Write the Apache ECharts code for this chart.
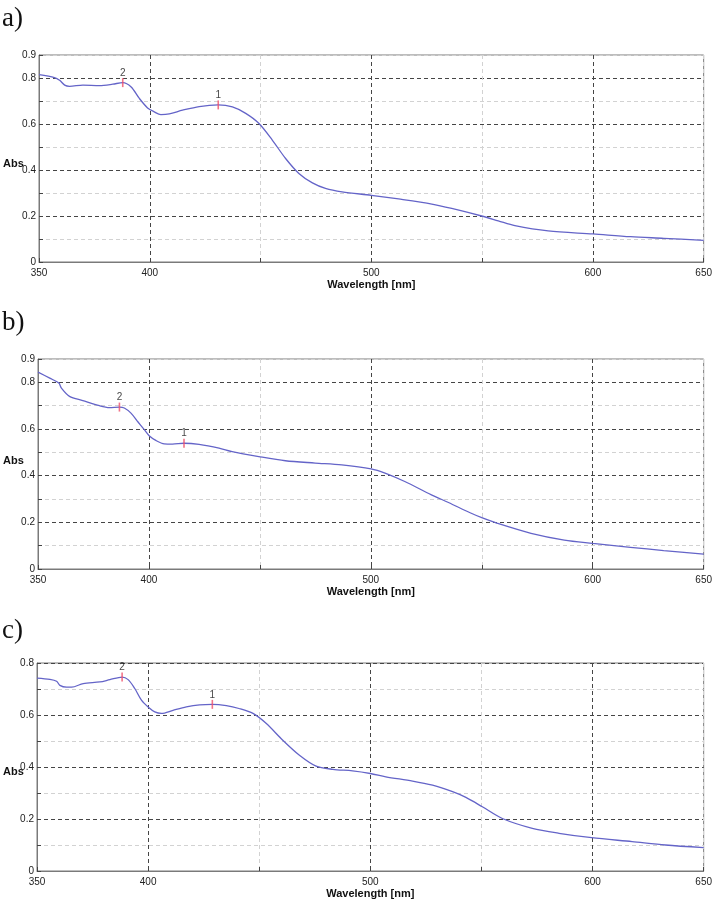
<!DOCTYPE html>
<html>
<head>
<meta charset="utf-8">
<script src="https://cdn.jsdelivr.net/npm/echarts@6/dist/echarts.min.js"></script>
<style>
  html, body { margin: 0; padding: 0; background: #fff; }
  #chart { width: 715px; height: 900px; }
</style>
</head>
<body>
<div id="chart"></div>
<script>
// spectrum a)
const wlA = [350, 357, 359.3, 361.6, 363.8, 369.8, 377.3, 383.3, 387.8, 391.6, 395.3, 399, 402, 405, 408.8, 414.8, 422.3, 430.9, 437.3, 443.3, 449.3, 455.3, 461.3, 467.3, 473.4, 479.3, 486.8, 500, 512.3, 527.3, 536.3, 549.8, 557.3, 564.8, 579.8, 600, 617, 632, 650]
const absA = [0.815, 0.802, 0.790, 0.769, 0.764, 0.769, 0.767, 0.773, 0.780, 0.761, 0.711, 0.670, 0.653, 0.641, 0.644, 0.660, 0.676, 0.683, 0.674, 0.646, 0.602, 0.530, 0.450, 0.385, 0.344, 0.320, 0.305, 0.290, 0.274, 0.252, 0.233, 0.200, 0.179, 0.158, 0.135, 0.122, 0.110, 0.103, 0.094]
const peakWlA = [387.8, 430.9]
const peakAbsA = [0.780, 0.683]

// spectrum b)
const wlB = [350, 355.3, 359.4, 360.5, 364.2, 370.2, 377.7, 382.2, 386.7, 388.9, 391.9, 394.9, 397.9, 400.1, 403.1, 406.9, 410.6, 415.8, 422.6, 431.6, 437.5, 449.5, 461.5, 474.9, 486.9, 500.1, 506.4, 515.3, 527.3, 535, 545, 550, 557, 572.2, 587.2, 600, 617, 632, 650]
const absB = [0.844, 0.818, 0.797, 0.776, 0.740, 0.722, 0.700, 0.692, 0.694, 0.690, 0.668, 0.632, 0.597, 0.571, 0.551, 0.536, 0.535, 0.539, 0.534, 0.518, 0.503, 0.482, 0.464, 0.454, 0.446, 0.429, 0.411, 0.375, 0.318, 0.285, 0.240, 0.220, 0.196, 0.153, 0.124, 0.110, 0.093, 0.079, 0.064]
const peakWlB = [386.7, 415.8]
const peakAbsB = [0.694, 0.539]

// spectrum c)
const wlC = [350, 355.8, 358.8, 360.3, 363.3, 365.6, 370.8, 378.3, 382.8, 388.3, 391, 394, 397, 400, 403, 406, 411.2, 417.2, 423.2, 428.9, 435.2, 440.9, 447.2, 453.2, 460.6, 468.1, 475.6, 483.1, 492, 500, 507, 519, 528, 537, 543, 550.4, 559.4, 572.9, 584.9, 599.6, 617.8, 632.8, 650]
const absC = [0.742, 0.737, 0.730, 0.714, 0.707, 0.707, 0.721, 0.727, 0.736, 0.746, 0.736, 0.702, 0.657, 0.631, 0.612, 0.606, 0.618, 0.631, 0.639, 0.641, 0.636, 0.625, 0.606, 0.567, 0.503, 0.445, 0.403, 0.391, 0.385, 0.375, 0.362, 0.346, 0.330, 0.305, 0.283, 0.247, 0.202, 0.164, 0.145, 0.128, 0.113, 0.100, 0.090]
const peakWlC = [388.3, 428.9]
const peakAbsC = [0.746, 0.641]

const peakNames = ['2', '1']
const xTickLabels = [350, 400, 500, 600, 650]
const yMaxes = [0.9, 0.9, 0.8]

const panels = [
  { wl: wlA, abs: absA, pw: peakWlA, pa: peakAbsA, grid: { left: 39, right: 8, top: 55, height: 207 } },
  { wl: wlB, abs: absB, pw: peakWlB, pa: peakAbsB, grid: { left: 38, right: 8, top: 359, height: 210 } },
  { wl: wlC, abs: absC, pw: peakWlC, pa: peakAbsC, grid: { left: 37, right: 10, top: 663, height: 208 } }
]

const dark = '#454545'
const light = '#d2d2d2'
const labelFont = { fontFamily: 'Liberation Sans, Arial, sans-serif', fontSize: 10, color: '#222' }

const chart = echarts.init(document.getElementById('chart'))

const grids = []
const xAxes = []
const yAxes = []
const series = []

panels.forEach((p, i) => {
  grids.push({ ...p.grid, show: true, borderColor: '#7a7a7a', borderWidth: 1, backgroundColor: '#fff' })
  xAxes.push({
    gridIndex: i,
    type: 'value',
    min: 350,
    max: 650,
    interval: 50,
    name: 'Wavelength [nm]',
    nameLocation: 'middle',
    nameGap: 17,
    nameTextStyle: { fontFamily: 'Liberation Sans, Arial, sans-serif', fontSize: 11, fontWeight: 'bold', color: '#111' },
    axisLine: { lineStyle: { color: '#7a7a7a', width: 1 } },
    axisTick: { inside: true, length: 4, lineStyle: { color: '#444' } },
    axisLabel: {
      ...labelFont,
      margin: 6,
      showMinLabel: true,
      showMaxLabel: true,
      formatter: v => (xTickLabels.includes(Math.round(v)) ? String(Math.round(v)) : '')
    },
    splitLine: { show: true, showMinLine: true, showMaxLine: true, lineStyle: { color: [light, dark], type: [4, 3], width: 1 } }
  })
  const yMax = yMaxes[i]
  yAxes.push({
    gridIndex: i,
    type: 'value',
    min: 0,
    max: yMax,
    interval: 0.1,
    axisLine: { show: true, lineStyle: { color: '#7a7a7a', width: 1 } },
    axisTick: { show: true, inside: true, length: 4, lineStyle: { color: '#444' } },
    axisLabel: {
      ...labelFont,
      margin: 3,
      showMinLabel: true,
      showMaxLabel: true,
      formatter: v => {
        const t = Math.round(v * 10)
        if (t % 2 === 0 || t === Math.round(yMax * 10)) return t === 0 ? '0' : (t / 10).toFixed(1)
        return ''
      }
    },
    splitLine: { show: true, showMinLine: true, showMaxLine: true, lineStyle: { color: [dark, light], type: [4, 3], width: 1 } }
  })
  series.push({
    type: 'line',
    xAxisIndex: i,
    yAxisIndex: i,
    data: p.wl.map((w, k) => [w, p.abs[k]]),
    showSymbol: false,
    smooth: 0.3,
    lineStyle: { color: '#6464c8', width: 1.3 },
    z: 3
  })
  series.push({
    type: 'scatter',
    xAxisIndex: i,
    yAxisIndex: i,
    data: p.pw.map((w, k) => ({ value: [w, p.pa[k]], name: peakNames[k] })),
    symbol: 'rect',
    symbolSize: [1.6, 9],
    itemStyle: { color: '#f0506a' },
    label: {
      show: true,
      position: 'top',
      distance: 0,
      formatter: '{b}',
      fontFamily: 'Liberation Sans, Arial, sans-serif',
      fontSize: 10,
      color: '#111'
    },
    z: 4
  })
})

const absFont = { fontFamily: 'Liberation Sans, Arial, sans-serif', fontSize: 11, fontWeight: 'bold', fill: '#111' }
const panelFont = { fontFamily: 'Liberation Serif, DejaVu Serif, serif', fontSize: 27, fill: '#111' }

chart.setOption({
  animation: false,
  grid: grids,
  xAxis: xAxes,
  yAxis: yAxes,
  series,
  graphic: [
    { type: 'text', left: 2, top: 5, style: { text: 'a)', ...panelFont } },
    { type: 'text', left: 2, top: 309, style: { text: 'b)', ...panelFont } },
    { type: 'text', left: 2, top: 617, style: { text: 'c)', ...panelFont } },
    { type: 'text', left: 3, top: 158, style: { text: 'Abs', ...absFont } },
    { type: 'text', left: 3, top: 455, style: { text: 'Abs', ...absFont } },
    { type: 'text', left: 3, top: 766, style: { text: 'Abs', ...absFont } }
  ]
})
</script>
</body>
</html>
